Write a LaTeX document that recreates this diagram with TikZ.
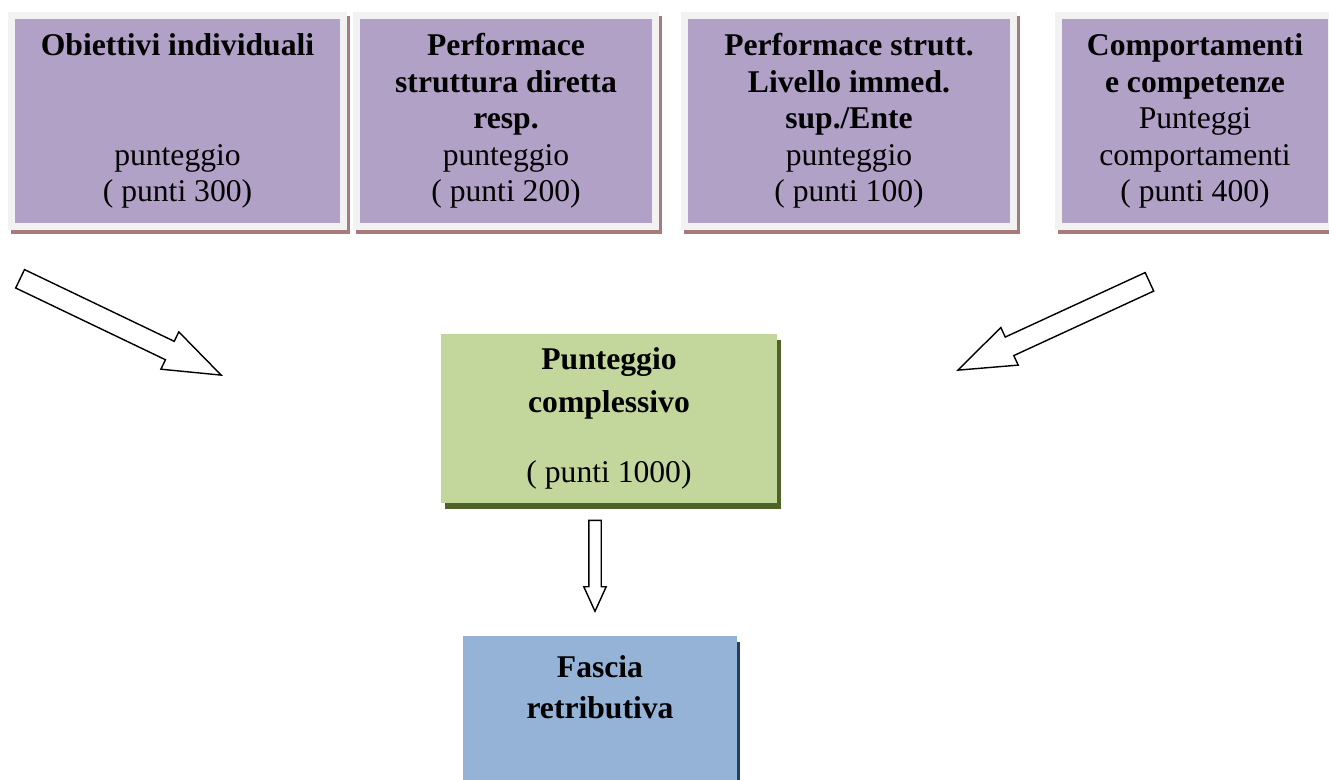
\documentclass[tikz,border=0pt]{standalone}
\usepackage{fontspec}
\setmainfont{Liberation Serif}
\usetikzlibrary{shapes.arrows, positioning}

\definecolor{lilla}{HTML}{B2A1C7}
\definecolor{cornice}{HTML}{F2F2F2}
\definecolor{ombra}{HTML}{A97A7C}
\definecolor{verde}{HTML}{C3D69B}
\definecolor{verdescuro}{HTML}{4F6228}
\definecolor{azzurro}{HTML}{95B3D7}
\definecolor{bluscuro}{HTML}{243F60}

\tikzset{
  testo/.style={inner sep=0pt, align=center, font=\fontsize{18}{20.8}\selectfont},
  voce/.style={testo, fill=lilla, draw=cornice, line width=1.4mm, minimum height=4.24cm,
    preaction={draw=ombra, fill=ombra, transform canvas={shift={(0.6mm,-0.8mm)}}}},
  freccia/.style={single arrow, draw, line width=0.8pt, fill=white, inner xsep=0pt, anchor=tip,
    inner ysep=0.19cm, single arrow head extend=0.21cm, single arrow tip angle=40},
}

\begin{document}
\begin{tikzpicture}[x=0.02cm, y=-0.02cm]
  \useasboundingbox[fill=white] (0,0) rectangle (1329,780);

  % le quattro voci in alto
  \node[voce, minimum width=6.64cm] (obiettivi) at (177.5,121)
    {\textbf{Obiettivi individuali}\\[2\baselineskip]punteggio\\( punti 300)};
  \node[voce, minimum width=5.98cm] (struttura) at (506,121)
    {\textbf{Performace}\\\textbf{struttura diretta}\\\textbf{resp.}\\punteggio\\( punti 200)};
  \node[voce, minimum width=6.58cm] (ente) at (849,121)
    {\textbf{Performace strutt.}\\\textbf{Livello immed.}\\\textbf{sup./Ente}\\punteggio\\( punti 100)};
  \node[voce, minimum width=5.46cm] (comportamenti) at (1195,121)
    {\textbf{Comportamenti}\\\textbf{e competenze}\\Punteggi\\comportamenti\\( punti 400)};

  \node[testo, fill=verde, minimum width=6.72cm, minimum height=3.38cm,
    preaction={fill=verdescuro, transform canvas={shift={(0.08cm,-0.12cm)}}}] (totale) at (609,418.5)
    {\raisebox{0pt}[\height][0pt]{\textbf{Punteggio}}\\[3.4pt]\textbf{complessivo}\\[19pt]( punti 1000)};

  \node[fill=azzurro, minimum width=5.48cm, minimum height=4cm, anchor=north,
    preaction={fill=bluscuro, transform canvas={shift={(0.06cm,-0.12cm)}}}] (fascia) at (600,636) {};
  \node[testo, anchor=north, below=0.38cm of fascia.north] (fasciatesto)
    {\textbf{Fascia}\\[2.8pt]\textbf{retributiva}};

  % frecce
  \node[freccia, minimum height=4.46cm, rotate=-25.6] (frecciasx) at (223,376) {};
  \node[freccia, minimum height=4.22cm, rotate=204.75] (frecciadx) at (956,371) {};
  \node[freccia, minimum height=1.82cm, rotate=-90, inner ysep=0.11cm,
    single arrow head extend=0.1cm, single arrow tip angle=49] (frecciagiu) at (595,613) {};
\end{tikzpicture}
\end{document}
